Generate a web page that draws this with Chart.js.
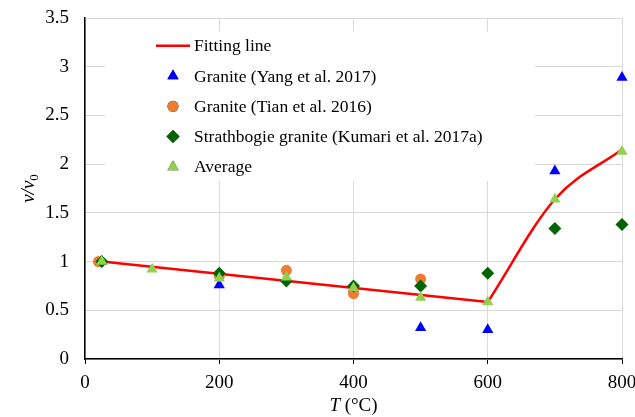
<!DOCTYPE html>
<html>
<head>
<meta charset="utf-8">
<script src="https://cdn.jsdelivr.net/npm/chart.js@4.4.1/dist/chart.umd.min.js"></script>
<style>
  html, body { margin: 0; padding: 0; background: #fff; }
  #wrap { width: 635px; height: 417px; position: relative; }
</style>
</head>
<body>
<div id="wrap"><canvas id="chart"></canvas></div>
<script>
// temperatures (°C) and normalised velocity v/v0 per source
const yangT = [25, 200, 400, 500, 600, 700, 800];
const yangV = [1.0, 0.76, 0.72, 0.32, 0.30, 1.93, 2.89];

const tianT = [20, 200, 300, 400, 500];
const tianV = [1.0, 0.85, 0.91, 0.67, 0.82];

const kumariT = [25, 200, 300, 400, 500, 600, 700, 800];
const kumariV = [1.0, 0.88, 0.80, 0.75, 0.75, 0.88, 1.34, 1.38];

const avgT = [25, 100, 200, 300, 400, 500, 600, 700, 800];
const avgV = [1.0, 0.92, 0.83, 0.84, 0.73, 0.63, 0.585, 1.64, 2.13];

// fitting line: straight part then smooth part
const fitLinT = [25, 600];
const fitLinV = [1.0, 0.585];
const fitCurT = [600, 700, 800];
const fitCurV = [0.585, 1.64, 2.15];

const xTicks = [0, 200, 400, 600, 800];
const yMax = 3.5;

const pts = (xs, ys) => xs.map((x, i) => ({ x, y: ys[i] }));
const SERIF = '"Liberation Serif", "Times New Roman", serif';

// legend drawn inside the plot on a white box, plus axis titles with italics
const decorPlugin = {
  id: 'decor',
  afterDatasetsDraw(chart) {
    const ctx = chart.ctx;
    ctx.save();
    ctx.fillStyle = '#fff';
    ctx.fillRect(105, 32, 430, 149);
    const items = chart.data.datasets.filter(d => !d.hideInLegend);
    const rowH = 30.3;
    items.forEach((d, i) => {
      const cy = 45.7 + i * rowH;
      const cx = 173;
      if (d.showLine) {
        ctx.strokeStyle = d.borderColor;
        ctx.lineWidth = d.borderWidth;
        ctx.beginPath(); ctx.moveTo(156, cy); ctx.lineTo(190, cy); ctx.stroke();
      } else {
        Chart.helpers.drawPoint(ctx, {
          pointStyle: d.pointStyle, radius: d.pointRadius, borderWidth: 0, rotation: 0
        }, cx, cy);
        ctx.fillStyle = d.backgroundColor;
        ctx.fill();
      }
      ctx.fillStyle = '#000';
      ctx.font = '17.5px ' + SERIF;
      ctx.textBaseline = 'middle';
      ctx.textAlign = 'left';
      ctx.fillText(d.label, 194, cy + 1);
    });
    ctx.restore();
  },
  afterDraw(chart) {
    const ctx = chart.ctx;
    const area = chart.chartArea;
    ctx.save();
    ctx.fillStyle = '#000';
    ctx.textBaseline = 'alphabetic';
    // x title: T (°C)
    const a = 'italic 19px ' + SERIF, b = '19px ' + SERIF;
    ctx.font = a; const w1 = ctx.measureText('T').width;
    ctx.font = b; const w2 = ctx.measureText(' (°C)').width;
    let x0 = (area.left + area.right) / 2 - (w1 + w2) / 2;
    ctx.font = a; ctx.fillText('T', x0, 411);
    ctx.font = b; ctx.fillText(' (°C)', x0 + w1, 411);
    // y title: v/v0 rotated
    ctx.translate(34, (area.top + area.bottom) / 2);
    ctx.rotate(-Math.PI / 2);
    ctx.font = a; const w3 = ctx.measureText('v/v').width;
    ctx.font = '13px ' + SERIF; const w4 = ctx.measureText('0').width;
    x0 = -(w3 + w4) / 2;
    ctx.font = a; ctx.fillText('v/v', x0, 0);
    ctx.font = '13px ' + SERIF; ctx.fillText('0', x0 + w3, 4);
    ctx.restore();
  }
};

const grid = '#d9d9d9';

new Chart(document.getElementById('chart'), {
  type: 'scatter',
  data: {
    datasets: [
      { label: 'Fitting line', data: pts(fitLinT, fitLinV), showLine: true, borderColor: '#ff0000',
        borderWidth: 2.5, pointRadius: 0, tension: 0, order: 5, clip: false },
      { label: 'fit2', hideInLegend: true, data: pts(fitCurT, fitCurV), showLine: true, borderColor: '#ff0000',
        borderWidth: 2.5, pointRadius: 0, cubicInterpolationMode: 'monotone', order: 5, clip: false },
      { label: 'Granite (Yang et al. 2017)', data: pts(yangT, yangV), pointStyle: 'triangle',
        pointRadius: 6.5, backgroundColor: '#0000ff', borderWidth: 0, order: 4, clip: false },
      { label: 'Granite (Tian et al. 2016)', data: pts(tianT, tianV), pointStyle: 'circle',
        pointRadius: 5.5, backgroundColor: '#ed7d31', borderWidth: 0, order: 3, clip: false },
      { label: 'Strathbogie granite (Kumari et al. 2017a)', data: pts(kumariT, kumariV), pointStyle: 'rectRot',
        pointRadius: 6.5, backgroundColor: '#006400', borderWidth: 0, order: 2, clip: false },
      { label: 'Average', data: pts(avgT, avgV), pointStyle: 'triangle',
        pointRadius: 6.5, backgroundColor: '#92d050', borderWidth: 0, order: 1, clip: false }
    ]
  },
  options: {
    responsive: true,
    maintainAspectRatio: false,
    animation: false,
    layout: { padding: { top: 18, right: 13, left: 0, bottom: 0 } },
    plugins: { legend: { display: false }, tooltip: { enabled: false } },
    scales: {
      x: {
        type: 'linear', min: 0, max: 800,
        afterBuildTicks: s => { s.ticks = xTicks.map(v => ({ value: v })); },
        afterFit: s => { s.height = 58; s.paddingLeft = 0; s.paddingRight = 0; },
        grid: { color: grid, tickColor: '#000', tickLength: 5, lineWidth: 1 },
        border: { color: '#000', width: 1.5 },
        ticks: { color: '#000', font: { family: SERIF, size: 19 }, padding: 8, maxRotation: 0 }
      },
      y: {
        min: 0, max: yMax,
        afterFit: s => { s.width = 85; s.paddingTop = 0; s.paddingBottom = 0; },
        grid: { color: grid, drawTicks: false, lineWidth: 1 },
        border: { color: '#000', width: 1.5 },
        ticks: { stepSize: 0.5, color: '#000', font: { family: SERIF, size: 19 }, padding: 16,
          callback: v => String(Number(v.toFixed(1))) }
      }
    }
  },
  plugins: [decorPlugin]
});
</script>
</body>
</html>
